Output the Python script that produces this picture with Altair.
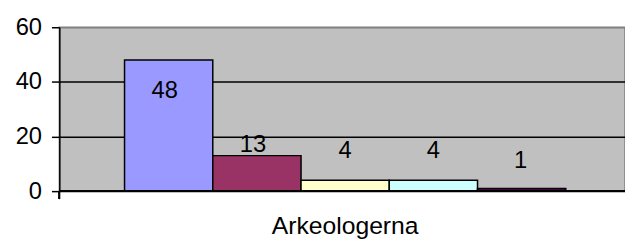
import altair as alt
import pandas as pd

categories = ["Arkeologerna"]
series = ["S1", "S2", "S3", "S4", "S5"]
values = [48, 13, 4, 4, 1]
colors = ["#9999FF", "#993366", "#FFFFCC", "#CCFFFF", "#660066"]
y_ticks = [0, 20, 40, 60]

df = pd.DataFrame({
    "group": [categories[0]] * len(series),
    "series": series,
    "value": values,
})

FONT = "Liberation Sans"
FS = 24

x_enc = alt.X(
    "group:N",
    scale=alt.Scale(paddingInner=0, paddingOuter=0.141, align=0.524),
    axis=alt.Axis(title=None, labelAngle=0, ticks=False, tickSize=0, domain=False,
                  labelFont=FONT, labelFontSize=25, labelColor="black",
                  labelPadding=23, labelBaseline="top"),
)
xo_enc = alt.XOffset("series:N", sort=series,
                     scale=alt.Scale(paddingInner=0, paddingOuter=0))
y_enc = alt.Y(
    "value:Q",
    scale=alt.Scale(domain=[0, 60], nice=False),
    axis=alt.Axis(title=None, values=y_ticks, tickSize=8, tickColor="black",
                  tickWidth=1.5, domainColor="black", domainWidth=1.5,
                  labelFont=FONT, labelFontSize=FS, labelColor="black",
                  labelPadding=10,
                  grid=True,
                  gridColor={"condition": {"test": "datum.value == 60", "value": "#808080"},
                             "value": "black"},
                  gridWidth=1.5),
)

bars = alt.Chart(df).mark_bar(stroke="black", strokeWidth=1.5).encode(
    x=x_enc,
    xOffset=xo_enc,
    y=y_enc,
    color=alt.Color("series:N", sort=series,
                    scale=alt.Scale(domain=series, range=colors), legend=None),
)

# label offsets (styling) per bar
offsets = [(-4, 31), (-4, -11), (0, -30), (0, -30), (-1, -28)]
texts = []
for s, (dx, dy) in zip(series, offsets):
    texts.append(
        alt.Chart(df).transform_filter(alt.datum.series == s).mark_text(
            font=FONT, fontSize=FS, color="black", baseline="middle", dx=dx, dy=dy
        ).encode(x=x_enc, xOffset=xo_enc, y=y_enc, text="value:Q")
    )

base_line = alt.Chart(df).mark_rule(color="black", strokeWidth=1.5).encode(
    y=alt.datum(0)
)
corner_tick = alt.Chart(df).mark_rule(color="black", strokeWidth=1.5).encode(
    x=alt.value(0), y=alt.value(166), y2=alt.value(174)
)

chart = alt.layer(bars, base_line, corner_tick, *texts).properties(
    width=573, height=166,
    background="white",
    autosize=alt.AutoSizeParams(type="none"),
    padding={"left": 52, "top": 18, "right": 0, "bottom": 49},
).configure_view(
    fill="#C0C0C0", stroke="#808080", strokeWidth=1.5
)

chart.save("out.html", embed_options={"renderer": "svg", "actions": False})
